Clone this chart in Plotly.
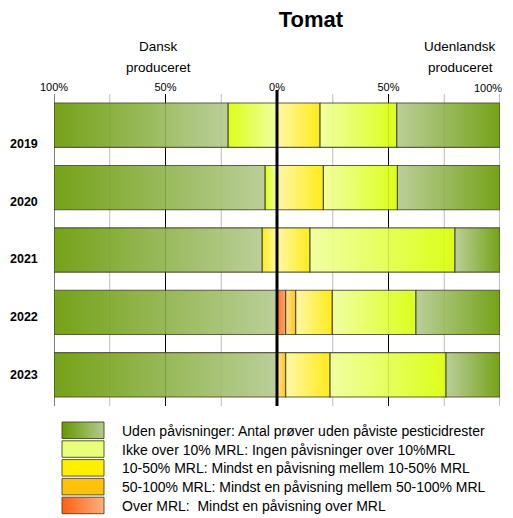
import plotly.graph_objects as go

# ---------------- data (percent of samples) ----------------
years = ["2019", "2020", "2021", "2022", "2023"]
categories = ["Uden påvisninger", "Ikke over 10% MRL", "10-50% MRL", "50-100% MRL", "Over MRL"]
legend_labels = [
    "Uden påvisninger: Antal prøver uden påviste pesticidrester",
    "Ikke over 10% MRL: Ingen påvisninger over 10%MRL",
    "10-50% MRL: Mindst en påvisning mellem 10-50% MRL",
    "50-100% MRL: Mindst en påvisning mellem 50-100% MRL",
    "Over MRL:  Mindst en påvisning over MRL",
]
x_tickvals = [-100, -50, 0, 50, 100]
x_ticktext = ["100%", "50%", "0%", "50%", "100%"]

# Dansk produceret (left side)
dk_uden = [78.0, 94.6, 93.3, 100.0, 100.0]
dk_ikke = [22.0, 5.4, 0.0, 0.0, 0.0]
dk_10_50 = [0.0, 0.0, 6.7, 0.0, 0.0]
dk_50_100 = [0.0, 0.0, 0.0, 0.0, 0.0]
dk_over = [0.0, 0.0, 0.0, 0.0, 0.0]

# Udenlandsk produceret (right side)
ud_uden = [46.3, 46.0, 20.2, 37.7, 24.2]
ud_ikke = [34.4, 33.2, 65.0, 37.5, 52.0]
ud_10_50 = [19.3, 20.8, 14.8, 16.4, 19.9]
ud_50_100 = [0.0, 0.0, 0.0, 4.5, 3.9]
ud_over = [0.0, 0.0, 0.0, 3.9, 0.0]

# ---------------- layout helpers ----------------
OFF = 8                      # page body margin
W, H = 513 - OFF, 518 - OFF  # figure size
FONT = "Liberation Sans"


def px(x):  # reference page x -> paper fraction
    return (x - OFF) / W


def py(y):  # reference page y -> paper fraction
    return 1 - (y - OFF) / H


seg_colors = {
    "Uden påvisninger": ("#b4ca8e", "#669900"),
    "Ikke over 10% MRL": ("#f0ff99", "#d9ff00"),
    "10-50% MRL": ("#fff7a0", "#ffea00"),
    "50-100% MRL": ("#ffe08c", "#ffbf00"),
    "Over MRL": ("#ff6a18", "#ff9a58"),
}
legend_colors = [
    ("#669900", "#b4ca8e"),
    ("#e8ff7a", "#e8ff7a"),
    ("#fff000", "#fff000"),
    ("#ffc20a", "#ffc20a"),
    ("#ff6010", "#ffb080"),
]
outline = "rgba(60,60,30,0.9)"
bar_half = 0.355

fig = go.Figure()

sides = [
    (-1, {"Over MRL": dk_over, "50-100% MRL": dk_50_100, "10-50% MRL": dk_10_50,
          "Ikke over 10% MRL": dk_ikke, "Uden påvisninger": dk_uden}),
    (1, {"Over MRL": ud_over, "50-100% MRL": ud_50_100, "10-50% MRL": ud_10_50,
         "Ikke over 10% MRL": ud_ikke, "Uden påvisninger": ud_uden}),
]
stack_order = ["Over MRL", "50-100% MRL", "10-50% MRL", "Ikke over 10% MRL", "Uden påvisninger"]

for sign, series in sides:
    for i, yr in enumerate(years):
        cum = 0.0
        for cat in stack_order:
            v = series[cat][i]
            if v <= 0:
                continue
            xa, xb = sign * cum, sign * (cum + v)
            cum += v
            inner, outer = seg_colors[cat]
            cs = [[0, inner], [1, outer]] if sign > 0 else [[0, outer], [1, inner]]
            fig.add_trace(go.Scatter(
                x=[xa, xb, xb, xa, xa],
                y=[i - bar_half, i - bar_half, i + bar_half, i + bar_half, i - bar_half],
                mode="lines", fill="toself",
                fillgradient=dict(type="horizontal", colorscale=cs),
                line=dict(color=outline, width=1.1),
                opacity=0.9, showlegend=False, hoverinfo="skip",
                xaxis="x", yaxis="y",
            ))

# legend swatches (own axis in reference-pixel units, below the chart)
LEG_TOP = 414.0
for k, lab in enumerate(legend_labels):
    top = 422 + k * 18.8
    bot = top + 16.5
    c0, c1 = legend_colors[k]
    fig.add_trace(go.Scatter(
        x=[62, 104, 104, 62, 62], y=[top, top, bot, bot, top],
        mode="lines", fill="toself",
        fillgradient=dict(type="horizontal", colorscale=[[0, c0], [1, c1]]),
        line=dict(color="rgba(70,70,40,0.9)", width=1),
        showlegend=False, hoverinfo="skip", xaxis="x3", yaxis="y3",
    ))
    fig.add_annotation(x=px(120), y=py((top + bot) / 2 + 0.5), xref="paper", yref="paper",
                       text=lab, showarrow=False, xanchor="left", yanchor="middle",
                       font=dict(family=FONT, size=14, color="#000"))

# grid lines and zero line
grid = [(-100, "#000000", 1), (-75, "#bbbbbb", 1), (-50, "#000000", 1), (-25, "#bbbbbb", 1),
        (25, "#bbbbbb", 1), (50, "#000000", 1), (75, "#bbbbbb", 1), (100, "#c0c0c0", 2)]
for gx, gc, gw in grid:
    fig.add_shape(type="line", x0=gx, x1=gx, y0=0, y1=1, xref="x", yref="y domain",
                  line=dict(color=gc, width=gw), layer="below")
fig.add_shape(type="line", x0=0, x1=0, y0=0, y1=1.013, xref="x", yref="y domain",
              line=dict(color="#000", width=3), layer="above")

# year labels
label_y = [144, 202, 259, 317, 375]
for yr, ly in zip(years, label_y):
    fig.add_annotation(x=px(40), y=py(ly), xref="paper", yref="paper", text="<b>%s</b>" % yr,
                       showarrow=False, xanchor="right", yanchor="middle",
                       font=dict(family=FONT, size=12.5, color="#000"))

# header texts
for txt, hx, hy in [("Dansk", 158, 47), ("produceret", 158, 67),
                    ("Udenlandsk", 460, 47), ("produceret", 460, 67)]:
    fig.add_annotation(x=px(hx), y=py(hy), xref="paper", yref="paper", text=txt,
                       showarrow=False, xanchor="center", yanchor="middle",
                       font=dict(family=FONT, size=13.5, color="#000"))

# the outermost right tick label would be cut at the visible edge: keep it inside
axis_ticktext = list(x_ticktext)
axis_ticktext[-1] = ""
fig.add_annotation(x=px(504), y=py(88), xref="paper", yref="paper", text=x_ticktext[-1],
                   showarrow=False, xanchor="right", yanchor="middle",
                   font=dict(family=FONT, size=11, color="#000"))

fig.update_layout(
    width=W, height=H,
    margin=dict(l=0, r=0, t=0, b=0, pad=0, autoexpand=False),
    paper_bgcolor="white", plot_bgcolor="rgba(0,0,0,0)",
    font=dict(family=FONT, color="#000"),
    title=dict(text="<b>Tomat</b>", x=px(311), y=py(19), xref="paper", yref="paper",
               xanchor="center", yanchor="middle", font=dict(family=FONT, size=22, color="#000")),
    showlegend=False,
    xaxis=dict(domain=[px(54), px(500)], range=[-100, 100], side="top", automargin=False,
               tickvals=x_tickvals, ticktext=axis_ticktext, showgrid=False, zeroline=False,
               showline=False, ticks="", ticklabeloverflow="allow",
               tickfont=dict(family=FONT, size=11, color="#000"), fixedrange=True),
    yaxis=dict(domain=[py(406), py(94)], range=[4.5, -0.5], visible=False, automargin=False,
               fixedrange=True),
    xaxis3=dict(domain=[0, 1], range=[OFF, OFF + W], visible=False,
                fixedrange=True, anchor="y3", automargin=False),
    yaxis3=dict(domain=[0, py(LEG_TOP)], range=[OFF + H, LEG_TOP], visible=False,
                fixedrange=True, anchor="x3", automargin=False),
)

fig.write_html("out.html")
